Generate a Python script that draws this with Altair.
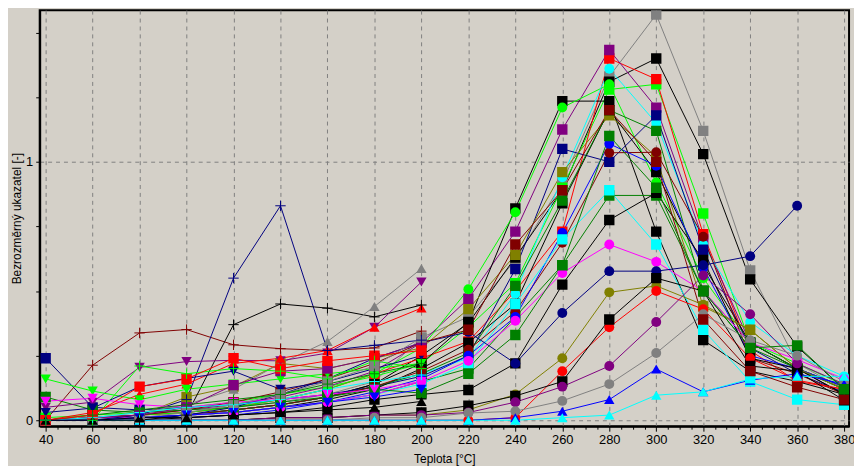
import altair as alt
import pandas as pd

temps = [40, 60, 80, 100, 120, 140, 160, 180, 200, 220, 240, 260, 280, 300, 320, 340, 360, 380]
N = None

# --- series spanning the whole temperature range ---
gray_sq = [0.00, 0.01, 0.02, 0.03, 0.05, 0.07, 0.10, 0.15, 0.32, 0.40, 0.62, 0.92, 1.33, 1.57, 1.12, 0.58, 0.22, 0.12]
black_ci1 = [0.00, 0.00, 0.01, 0.02, 0.04, 0.06, 0.09, 0.14, 0.25, 0.376, 0.63, 0.89, 1.31, 1.40, 1.03, 0.545, 0.285, 0.12]
lime_sq = [0.01, 0.02, 0.03, 0.05, 0.07, 0.10, 0.13, 0.17, 0.22, 0.36, 0.53, 0.90, 1.28, 1.30, 0.80, 0.30, 0.20, 0.13]
red_sq = [0.00, 0.01, 0.02, 0.03, 0.05, 0.08, 0.12, 0.18, 0.24, 0.305, 0.50, 0.73, 1.40, 1.32, 0.72, 0.27, 0.15, 0.12]
purple_sq = [0.00, 0.01, 0.02, 0.04, 0.06, 0.09, 0.13, 0.19, 0.30, 0.47, 0.73, 1.125, 1.433, 1.21, 0.70, 0.30, 0.20, 0.13]
black_sq = [0.00, 0.00, 0.01, 0.02, 0.04, 0.06, 0.09, 0.14, 0.22, 0.38, 0.82, 1.235, 1.235, 0.73, 0.31, 0.19, 0.15, 0.10]
lime_ci = [0.00, 0.01, 0.02, 0.03, 0.05, 0.08, 0.12, 0.18, 0.28, 0.507, 0.805, 1.21, 1.30, 0.92, 0.55, 0.30, 0.22, 0.136]
cyan_ci = [0.00, 0.01, 0.01, 0.02, 0.04, 0.06, 0.09, 0.13, 0.18, 0.24, 0.49, 0.94, 1.36, 1.15, 0.68, 0.38, 0.25, 0.17]
navy_sq = [0.24, 0.05, 0.04, 0.05, 0.06, 0.08, 0.10, 0.13, 0.17, 0.25, 0.585, 1.05, 1.00, 1.18, 0.66, 0.28, 0.18, 0.108]
olive_sq = [0.00, 0.01, 0.02, 0.09, 0.13, 0.22, 0.20, 0.24, 0.28, 0.43, 0.64, 0.96, 1.18, 1.02, 0.44, 0.35, 0.20, 0.13]
black_ci2 = [0.00, 0.00, 0.01, 0.02, 0.03, 0.05, 0.08, 0.12, 0.20, 0.30, 0.45, 0.84, 1.20, 0.96, 0.60, 0.30, 0.20, 0.10]
green_ci1 = [0.00, 0.00, 0.01, 0.02, 0.03, 0.05, 0.07, 0.10, 0.15, 0.20, 0.40, 0.60, 0.87, 0.87, 0.50, 0.28, 0.20, 0.12]
green_ci2 = [0.00, 0.01, 0.01, 0.02, 0.04, 0.06, 0.09, 0.13, 0.18, 0.26, 0.52, 0.85, 1.20, 1.12, 0.50, 0.30, 0.20, 0.12]
maroon_ci = [0.00, 0.00, 0.01, 0.02, 0.04, 0.06, 0.09, 0.13, 0.19, 0.273, 0.42, 0.687, 1.035, 1.037, 0.71, 0.24, 0.18, 0.10]
blue_ci = [0.00, 0.00, 0.01, 0.01, 0.02, 0.04, 0.07, 0.11, 0.16, 0.25, 0.40, 0.725, 1.07, 0.985, 0.59, 0.25, 0.20, 0.13]
cyan_sq = [0.00, 0.00, 0.01, 0.02, 0.03, 0.05, 0.07, 0.10, 0.14, 0.22, 0.45, 0.70, 0.89, 0.68, 0.35, 0.15, 0.08, 0.06]
black_tri1 = [0.00, 0.00, 0.00, 0.01, 0.02, 0.03, 0.05, 0.08, 0.10, 0.117, 0.22, 0.525, 0.775, 0.88, 0.62, 0.24, 0.20, 0.10]
magenta_ci = [0.00, 0.01, 0.01, 0.02, 0.03, 0.05, 0.07, 0.10, 0.15, 0.23, 0.385, 0.57, 0.68, 0.613, 0.50, 0.30, 0.235, 0.16]
navy_ci = [0.00, 0.00, 0.01, 0.02, 0.05, 0.10, 0.16, 0.24, 0.30, 0.342, 0.22, 0.415, 0.577, 0.577, 0.60, 0.635, 0.83, N]
olive_ci = [0.00, 0.00, 0.00, 0.00, 0.00, 0.01, 0.01, 0.02, 0.02, 0.04, 0.10, 0.24, 0.495, 0.52, 0.447, 0.35, 0.20, 0.12]
red_ci = [0.00, 0.00, 0.00, 0.00, 0.00, 0.00, 0.00, 0.00, 0.00, 0.00, 0.01, 0.19, 0.36, 0.50, 0.43, 0.24, 0.155, 0.12]
black_tri2 = [0.00, 0.00, 0.00, 0.00, 0.00, 0.01, 0.01, 0.02, 0.03, 0.056, 0.094, 0.15, 0.39, 0.55, 0.50, 0.21, 0.19, 0.077]
purple_ci = [0.00, 0.00, 0.00, 0.00, 0.00, 0.01, 0.01, 0.02, 0.02, 0.03, 0.07, 0.13, 0.21, 0.38, 0.56, 0.41, 0.22, 0.14]
gray_ci = [0.00, 0.00, 0.00, 0.00, 0.00, 0.00, 0.00, 0.01, 0.01, 0.028, 0.035, 0.075, 0.14, 0.26, 0.41, 0.31, 0.25, 0.15]
blue_tri = [0.00, 0.00, 0.00, 0.00, 0.00, 0.00, 0.00, 0.00, 0.00, 0.00, 0.01, 0.035, 0.08, 0.198, 0.11, 0.155, 0.18, 0.14]
cyan_tri = [0.00, 0.00, 0.00, 0.00, 0.00, 0.00, 0.00, 0.00, 0.00, 0.00, 0.00, 0.01, 0.02, 0.097, 0.11, 0.16, 0.17, 0.17]
maroon_sq = [0.00, 0.01, 0.02, 0.04, 0.07, 0.11, 0.16, 0.22, 0.30, 0.35, 0.68, 0.89, 1.20, 1.00, 0.39, 0.19, 0.128, 0.08]
green_sq = [0.09, 0.04, 0.03, 0.04, 0.05, 0.07, 0.09, 0.12, 0.105, 0.18, 0.33, 0.60, 1.10, 0.90, 0.50, 0.28, 0.29, 0.12]

# --- series measured only up to 200 °C ---
maroon_plus = [0.00, 0.213, 0.338, 0.351, 0.292, 0.277, 0.27, 0.28, 0.345] + [N] * 9
navy_plus = [0.00, 0.00, 0.02, 0.08, 0.55, 0.83, 0.27, 0.29, 0.31] + [N] * 9
black_plus = [0.00, 0.00, 0.00, 0.02, 0.37, 0.45, 0.434, 0.40, 0.446] + [N] * 9
gray_tri = [0.00, 0.01, 0.03, 0.06, 0.12, 0.22, 0.305, 0.44, 0.587] + [N] * 9
purple_tri_dn = [0.05, 0.07, 0.205, 0.227, 0.232, 0.23, 0.26, 0.36, 0.535] + [N] * 9
red_tri = [0.00, 0.03, 0.10, 0.14, 0.22, 0.24, 0.27, 0.36, 0.434] + [N] * 9
lime_tri_dn = [0.16, 0.113, 0.079, 0.12, 0.14, 0.16, 0.18, 0.20, 0.22] + [N] * 9
lime_plus = [0.00, 0.00, 0.21, 0.18, 0.20, 0.19, 0.16, 0.23, 0.20] + [N] * 9
navy_tri_dn = [0.03, 0.047, 0.13, 0.162, 0.19, 0.12, 0.15, 0.20, 0.25] + [N] * 9
magenta_tri_dn = [0.074, 0.085, 0.06, 0.05, 0.07, 0.08, 0.10, 0.12, 0.15] + [N] * 9
purple_sq_low = [0.00, 0.01, 0.02, 0.05, 0.136, 0.19, 0.20, 0.24, 0.30] + [N] * 9
gray_sq_low = [0.00, 0.00, 0.01, 0.03, 0.06, 0.10, 0.15, 0.21, 0.32] + [N] * 9
cyan_plus = [0.00, 0.01, 0.03, 0.05, 0.06, 0.08, 0.12, 0.15, 0.175] + [N] * 9
green_plus = [0.00, 0.02, 0.04, 0.06, 0.08, 0.10, 0.14, 0.18, 0.22] + [N] * 9
blue_tri_dn = [0.00, 0.00, 0.01, 0.02, 0.03, 0.05, 0.07, 0.09, 0.12] + [N] * 9
red_sq_low = [0.00, 0.02, 0.13, 0.16, 0.24, 0.20, 0.23, 0.25, 0.27] + [N] * 9
black_tri_low = [0.00, 0.00, 0.01, 0.01, 0.02, 0.03, 0.04, 0.05, 0.073] + [N] * 9

series = [
    ("gray_sq", gray_sq), ("black_ci1", black_ci1), ("lime_sq", lime_sq), ("red_sq", red_sq),
    ("purple_sq", purple_sq), ("black_sq", black_sq), ("lime_ci", lime_ci), ("cyan_ci", cyan_ci),
    ("navy_sq", navy_sq), ("olive_sq", olive_sq), ("black_ci2", black_ci2), ("green_ci1", green_ci1),
    ("green_ci2", green_ci2), ("maroon_ci", maroon_ci), ("blue_ci", blue_ci), ("cyan_sq", cyan_sq),
    ("black_tri1", black_tri1), ("magenta_ci", magenta_ci), ("navy_ci", navy_ci), ("olive_ci", olive_ci),
    ("red_ci", red_ci), ("black_tri2", black_tri2), ("purple_ci", purple_ci), ("gray_ci", gray_ci),
    ("blue_tri", blue_tri), ("cyan_tri", cyan_tri), ("maroon_sq", maroon_sq), ("green_sq", green_sq),
    ("maroon_plus", maroon_plus), ("navy_plus", navy_plus), ("black_plus", black_plus),
    ("gray_tri", gray_tri), ("purple_tri_dn", purple_tri_dn), ("red_tri", red_tri),
    ("lime_tri_dn", lime_tri_dn), ("lime_plus", lime_plus), ("navy_tri_dn", navy_tri_dn),
    ("magenta_tri_dn", magenta_tri_dn), ("purple_sq_low", purple_sq_low), ("gray_sq_low", gray_sq_low),
    ("cyan_plus", cyan_plus), ("green_plus", green_plus), ("blue_tri_dn", blue_tri_dn),
    ("red_sq_low", red_sq_low), ("black_tri_low", black_tri_low),
]

# styles
palette = {"gray": "#808080", "black": "#000000", "lime": "#00FF00", "red": "#FF0000",
           "purple": "#800080", "cyan": "#00FFFF", "navy": "#000080", "olive": "#808000",
           "green": "#008000", "maroon": "#800000", "blue": "#0000FF", "magenta": "#FF00FF"}
shape_of = {"sq": "square", "ci": "circle", "tri": "triangle-up", "dn": "triangle-down", "plus": "plus"}
size_of = {"square": 110, "circle": 100, "triangle-up": 110, "triangle-down": 110, "plus": 110}

rows = []
for name, vals in series:
    parts = name.split("_")
    color = palette[parts[0]]
    key = parts[1] if parts[1] in shape_of else "sq"
    if name.endswith("_dn"):
        key = "dn"
    shp = shape_of[key]
    for t, v in zip(temps, vals):
        if v is not None:
            rows.append({"series": name, "T": t, "v": v, "color": color,
                         "shape": shp, "size": size_of[shp]})
df = pd.DataFrame(rows)

FONT = "Liberation Sans"
xscale = alt.Scale(domain=[37.47, 382.1], nice=False, zero=False)
yscale = alt.Scale(domain=[-0.023, 1.587], nice=False, zero=False)

xaxis = alt.Axis(
    values=list(range(40, 381, 5)),
    labelExpr="datum.value % 20 == 0 ? datum.label : ''",
    tickSize={"condition": {"test": "datum.value % 20 == 0", "value": 5}, "value": 3},
    gridOpacity={"condition": {"test": "datum.value % 20 == 0", "value": 1}, "value": 0},
    grid=True, gridColor="#808080", gridDash=[4, 4], gridWidth=1,
    title="Teplota [°C]", labelPadding=2, titlePadding=8,
    labelFontSize=13, titleFontSize=12,
)
yaxis = alt.Axis(
    values=[0, 0.25, 0.5, 0.75, 1, 1.25, 1.5],
    labelExpr="datum.value == 0 || datum.value == 1 ? format(datum.value, 'd') : ''",
    tickSize=4,
    gridOpacity={"condition": {"test": "datum.value == 0 || datum.value == 1", "value": 1}, "value": 0},
    grid=True, gridColor="#808080", gridDash=[4, 4], gridWidth=1,
    title="Bezrozměrný ukazatel [-]", labelPadding=3,
    titleX=-16, titleY=210, titleAngle=270, titleBaseline="bottom", titleAlign="center",
    labelFontSize=13, titleFontSize=12,
)

base = alt.Chart(df)
x = alt.X("T:Q", scale=xscale, axis=xaxis)
y = alt.Y("v:Q", scale=yscale, axis=yaxis)

lines = base.mark_line(strokeWidth=1, clip=True).encode(
    x=x, y=y, detail="series:N", color=alt.Color("color:N", scale=None), order="T:Q"
)
filled = base.transform_filter("datum.shape != 'plus'").mark_point(
    filled=True, opacity=1, strokeWidth=0, clip=True
).encode(
    x=x, y=y,
    color=alt.Color("color:N", scale=None),
    shape=alt.Shape("shape:N", scale=None),
    size=alt.Size("size:Q", scale=None),
)
plus = base.transform_filter("datum.shape == 'plus'").mark_point(
    shape="M-1,0H1M0,-1V1", filled=False, strokeWidth=1, size=110, opacity=1, clip=True
).encode(x=x, y=y, color=alt.Color("color:N", scale=None))

chart = alt.layer(lines, filled, plus).properties(
    width=817, height=420,
    autosize=alt.AutoSizeParams(type="none"),
    padding={"left": 32, "top": 0, "right": 5, "bottom": 38},
    background="#D4D0C8",
).configure_view(
    stroke="#000000", strokeWidth=2, fill="#D4D0C8"
).configure_axis(
    domainColor="#000000", domainWidth=2, tickColor="#000000",
    labelFont=FONT, titleFont=FONT,
    titleFontWeight="normal", labelColor="#000000", titleColor="#000000",
)

chart.save("out.html", embed_options={"renderer": "svg", "actions": False})
